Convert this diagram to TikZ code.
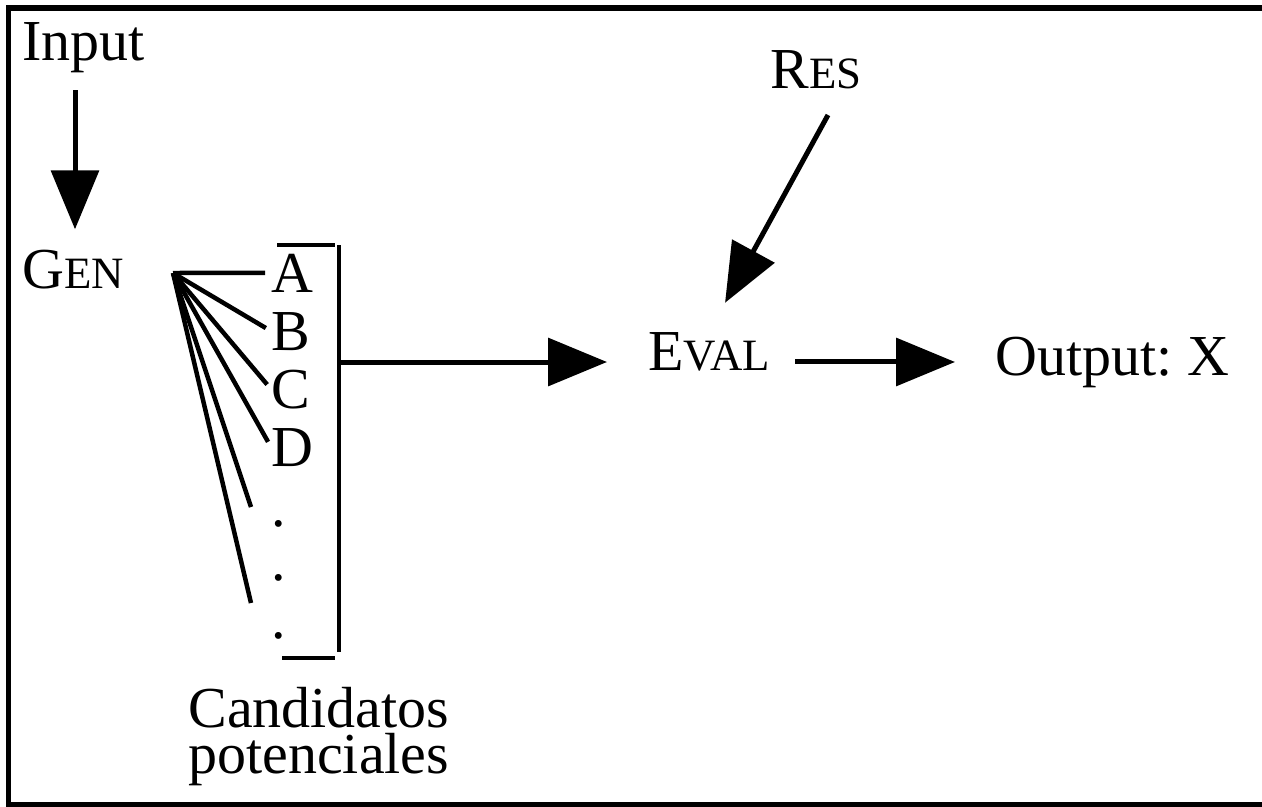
\documentclass[tikz,border=0pt]{standalone}
\usepackage{fontspec}
\setmainfont{Liberation Serif}
\usetikzlibrary{
  arrows.meta
}

\newcommand{\fakesc}[2]{#1{\fontsize{25.5}{30}\selectfont #2}}

\begin{document}
\begin{tikzpicture}[x=0.02cm, y=-0.02cm,
    txt/.style={inner sep=0pt, anchor=base west, font=\fontsize{33}{38}\selectfont},
    fan/.style={line width=0.09cm},
    arr/.style={line width=0.1cm, -{Triangle[length=1.18cm, width=0.95cm]}}]
  \def\Xl{271};
  \def\Xb{339};
  \def\Ya{362};
  \useasboundingbox (0,0) rectangle (1262,806);
         \draw [line width=0.11cm] (1275,8) -- (8.5,8) -- (8.5,804.5) -- (1275,804.5);  % frame

         \node [txt] (input) at (22,60)   {Input};
         \node [txt] (gen)   at (22,288)  {\fakesc{G}{EN}};
         \node [txt] (res)   at (770,88)  {\fakesc{R}{ES}};
         \node [txt] (eval)  at (648,370) {\fakesc{E}{VAL}};
         \node [txt] (output) at (995,375) {Output:\ X};
         \node [txt, anchor=north west, align=left, font=\fontsize{33}{26.2}\selectfont] (cand) at (188,687) {Candidatos\\potenciales};

        % candidates
        \foreach \n/\t/\y in {a/A/292, b/B/350, c/C/408, d/D/466}
          \node [txt] (\n) at (\Xl, \y) {\t};
        \foreach \y [count=\i] in {526, 580, 638}
          \node [txt] (dot\i) at (\Xl, \y) {.};

        % bracket
	\draw [fan] (277,245) -- (335,245);
	\draw [fan] (\Xb,245) -- (\Xb,652);
	\draw [fan] (282,658) -- (335,658);
        \coordinate (brk) at (\Xb, \Ya);

        % Gen -> candidates
        \coordinate (apex) at (173,273);
        \coordinate (f5) at (251,507);
        \coordinate (f6) at (251,603);
        \foreach \n in {a, b, c, d}
          \draw [fan, shorten >=0.12cm] (apex) -- (\n.west);
        \draw [fan] (apex) -- (f5);
        \draw [fan] (apex) -- (f6);

        \coordinate (inarr) at (75,90);
	\draw [arr, shorten >=0.4cm] (inarr) -- (inarr |- gen.north);  % Input -> Gen
	\draw [arr, shorten >=0.82cm] (brk) -- (brk -| eval.west);     % candidates -> Eval
        \coordinate (resfoot) at (828,115);
	\draw [arr, shorten >=0.66cm] (resfoot) -- (eval.north);       % Res -> Eval
	\draw [arr, shorten <=0.5cm, shorten >=0.8cm] (eval.east |- output.west) -- (output.west); % Eval -> Output

\end{tikzpicture}
\end{document}
